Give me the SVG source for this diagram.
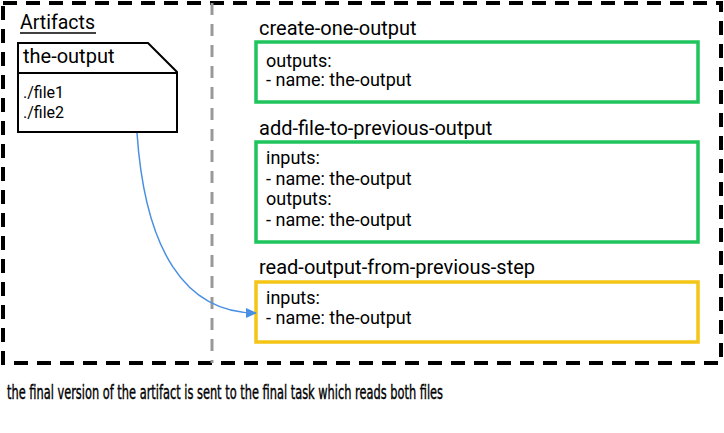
<svg xmlns="http://www.w3.org/2000/svg" width="724" height="433" viewBox="0 0 724 433">
<style>
.t{font-family:Roboto,"Liberation Sans",sans-serif;fill:#000}
.title{font-size:20px}
.body{font-size:18px}
.green{fill:none;stroke:#1ec45c;stroke-width:3.5}
.yellow{fill:none;stroke:#f4c516;stroke-width:3.5}
</style>
<defs>
<marker id="arr" markerWidth="11" markerHeight="10" refX="10" refY="5" orient="auto" markerUnits="userSpaceOnUse">
<path d="M0,0 L11,5 L0,10 Z" fill="#4a90e2"/>
</marker>
</defs>
<rect width="724" height="433" fill="#fff"/>
<g id="frame">
<rect x="3" y="3" width="718" height="360" fill="none" stroke="#000" stroke-width="4" stroke-dasharray="14 9"/>
<line x1="212" y1="3" x2="212" y2="363" stroke="#999" stroke-width="3" stroke-dasharray="12 9"/>
</g>
<g id="artifacts">
<text class="t" font-size="19.5" x="20" y="29">Artifacts</text>
<line x1="20" y1="33" x2="96" y2="33" stroke="#000" stroke-width="1.5"/>
</g>
<g id="the-output">
<path d="M18,43 L148,43 L177,72 L177,132 L18,132 Z" fill="#fff" stroke="#000" stroke-width="2"/>
<line x1="18" y1="73" x2="177" y2="73" stroke="#000" stroke-width="2"/>
<text class="t title" x="23" y="63">the-output</text>
<text class="t" font-size="16" x="23" y="98">./file1</text>
<text class="t" font-size="16" x="23" y="118">./file2</text>
</g>
<g id="create-one-output">
<text class="t title" x="259" y="35">create-one-output</text>
<rect class="green" x="256" y="42" width="442" height="60"/>
<text class="t body" x="266" y="67">outputs:</text>
<text class="t body" x="266" y="86">- name: the-output</text>
</g>
<g id="add-file-to-previous-output">
<text class="t title" x="259" y="135">add-file-to-previous-output</text>
<rect class="green" x="256" y="142" width="442" height="100"/>
<text class="t body" x="266" y="164">inputs:</text>
<text class="t body" x="266" y="185">- name: the-output</text>
<text class="t body" x="266" y="205">outputs:</text>
<text class="t body" x="266" y="226">- name: the-output</text>
</g>
<g id="read-output-from-previous-step">
<text class="t title" x="259" y="274">read-output-from-previous-step</text>
<rect class="yellow" x="256" y="282" width="442" height="60"/>
<text class="t body" x="266" y="304">inputs:</text>
<text class="t body" x="266" y="324">- name: the-output</text>
</g>
<g id="connectors">
<path d="M137,133 C145,250 185,313 256,313" fill="none" stroke="#4a90e2" stroke-width="1.5" marker-end="url(#arr)"/>
</g>
<text x="7" y="399" font-family="'DejaVu Sans Condensed','Liberation Sans Narrow',sans-serif" font-size="19" textLength="436" lengthAdjust="spacingAndGlyphs" fill="#000" stroke="#000" stroke-width="0.4">the final version of the artifact is sent to the final task which reads both files</text>
</svg>
